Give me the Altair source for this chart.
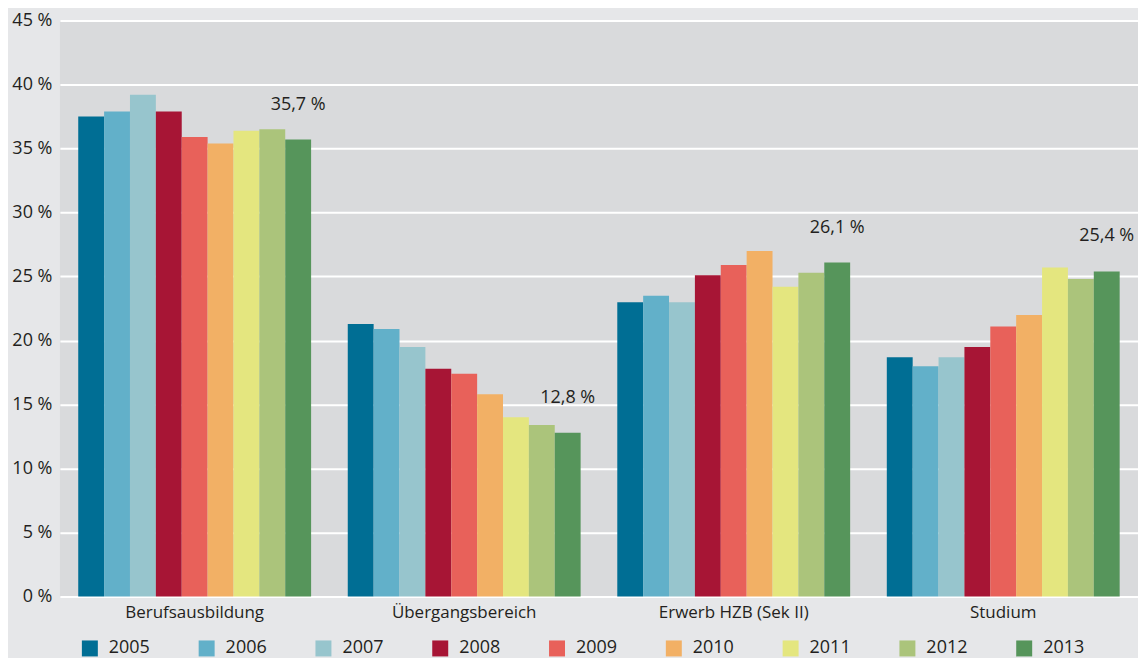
import altair as alt
import pandas as pd

categories = ["Berufsausbildung", "Übergangsbereich", "Erwerb HZB (Sek II)", "Studium"]
years = ["2005", "2006", "2007", "2008", "2009", "2010", "2011", "2012", "2013"]
berufsausbildung = [37.5, 37.9, 39.2, 37.9, 35.9, 35.4, 36.4, 36.5, 35.7]
uebergangsbereich = [21.3, 20.9, 19.5, 17.8, 17.4, 15.8, 14.0, 13.4, 12.8]
erwerb_hzb = [23.0, 23.5, 23.0, 25.1, 25.9, 27.0, 24.2, 25.3, 26.1]
studium = [18.7, 18.0, 18.7, 19.5, 21.1, 22.0, 25.7, 24.8, 25.4]
labels_2013 = ["35,7 %", "12,8 %", "26,1 %", "25,4 %"]
colors = ["#006e94", "#62b0c9", "#97c5cd", "#a71535", "#e8615a",
          "#f2b065", "#e4e67f", "#abc47b", "#56955b"]

series = [berufsausbildung, uebergangsbereich, erwerb_hzb, studium]
rows = []
for cat, vals in zip(categories, series):
    for yr, v in zip(years, vals):
        rows.append({"Bereich": cat, "Jahr": yr, "Anteil": v})
df = pd.DataFrame(rows)

lab_rows = []
for cat, vals, lab in zip(categories, series, labels_2013):
    lab_rows.append({"Bereich": cat, "Jahr": years[-1], "Anteil": vals[-1], "Label": lab})
df_lab = pd.DataFrame(lab_rows)

FONT = "Open Sans"
TXT = "#231f20"

x_enc = alt.X("Bereich:N", sort=categories,
              scale=alt.Scale(domain=categories, paddingInner=0.136, paddingOuter=0.068),
              axis=alt.Axis(title=None, labelAngle=0, domain=False, ticks=False,
                            labelPadding=8, labelFontSize=17, labelFont=FONT,
                            labelColor=TXT))
xo_enc = alt.XOffset("Jahr:N", scale=alt.Scale(domain=years, paddingInner=0, paddingOuter=0))
y_enc = alt.Y("Anteil:Q",
              scale=alt.Scale(domain=[0, 45], nice=False, zero=True),
              axis=alt.Axis(title=None, values=list(range(0, 50, 5)),
                            labelExpr="datum.value + ' %'", domain=False, ticks=False,
                            labelPadding=8, labelFontSize=18, labelFont=FONT,
                            labelColor=TXT, grid=True, gridColor="#ffffff",
                            gridWidth=2, gridOpacity=1))

bars = alt.Chart(df).mark_bar(strokeWidth=0).encode(
    x=x_enc,
    xOffset=xo_enc,
    y=y_enc,
    color=alt.Color("Jahr:N", scale=alt.Scale(domain=years, range=colors),
                    legend=alt.Legend(title=None, orient="none", direction="horizontal",
                                      columns=9, legendX=21, legendY=620,
                                      symbolType="square", symbolSize=256,
                                      symbolStrokeWidth=0, symbolOpacity=1,
                                      labelFontSize=18, labelFont=FONT, labelColor=TXT,
                                      labelOffset=10, columnPadding=47, padding=0)),
)

texts = alt.Chart(df_lab).mark_text(font=FONT, fontSize=18, color=TXT, dy=-35,
                                    baseline="middle", align="center").encode(
    x=x_enc,
    xOffset=xo_enc,
    y=y_enc,
    text="Label:N",
)

chart = alt.layer(bars, texts).properties(
    width=1080, height=577,
    background="#e6e7e9",
    padding={"left": 3, "top": 3, "right": 0, "bottom": 0},
).configure_view(fill="#d9dadc", stroke=None)

chart.save("out.html", embed_options={"renderer": "svg", "actions": False})
